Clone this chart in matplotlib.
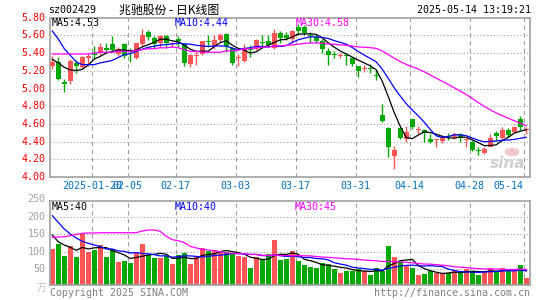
import matplotlib
matplotlib.use('Agg')
import matplotlib.pyplot as plt
import numpy as np

# trading days shown (2025)
dates = ['01-09', '01-10', '01-13', '01-14', '01-15', '01-16', '01-17', '01-20', '01-21', '01-22',
         '01-23', '01-24', '01-27', '02-05', '02-06', '02-07', '02-10', '02-11', '02-12', '02-13',
         '02-14', '02-17', '02-18', '02-19', '02-20', '02-21', '02-24', '02-25', '02-26', '02-27',
         '02-28', '03-03', '03-04', '03-05', '03-06', '03-07', '03-10', '03-11', '03-12', '03-13',
         '03-14', '03-17', '03-18', '03-19', '03-20', '03-21', '03-24', '03-25', '03-26', '03-27',
         '03-28', '03-31', '04-01', '04-02', '04-03', '04-07', '04-08', '04-09', '04-10', '04-11',
         '04-14', '04-15', '04-16', '04-17', '04-18', '04-21', '04-22', '04-23', '04-24', '04-25',
         '04-28', '04-29', '04-30', '05-06', '05-07', '05-08', '05-09', '05-12', '05-13', '05-14']

opens = [5.25, 5.30, 5.07, 5.09, 5.29, 5.24, 5.35, 5.40, 5.41, 5.46,
         5.50, 5.39, 5.50, 5.43, 5.35, 5.50, 5.64, 5.575, 5.51, 5.59,
         5.50, 5.56, 5.50, 5.28, 5.37, 5.385, 5.54, 5.48, 5.55, 5.62,
         5.46, 5.345, 5.31, 5.445, 5.45, 5.52, 5.535, 5.46, 5.625, 5.61,
         5.56, 5.70, 5.69, 5.61, 5.58, 5.535, 5.42, 5.39, 5.37, 5.38,
         5.35, 5.25, 5.215, 5.225, 5.155, 4.70, 4.55, 4.24, 4.55, 4.425,
         4.65, 4.535, 4.53, 4.425, 4.415, 4.41, 4.46, 4.455, 4.485, 4.415,
         4.40, 4.30, 4.275, 4.34, 4.50, 4.445, 4.535, 4.51, 4.66, 4.53]
highs = [5.37, 5.36, 5.11, 5.33, 5.32, 5.37, 5.40, 5.48, 5.51, 5.52,
         5.59, 5.47, 5.52, 5.46, 5.52, 5.67, 5.66, 5.59, 5.61, 5.60,
         5.53, 5.59, 5.51, 5.39, 5.43, 5.54, 5.61, 5.61, 5.63, 5.63,
         5.47, 5.39, 5.50, 5.49, 5.56, 5.60, 5.60, 5.675, 5.65, 5.64,
         5.66, 5.73, 5.72, 5.64, 5.62, 5.56, 5.46, 5.42, 5.40, 5.39,
         5.36, 5.26, 5.27, 5.28, 5.21, 4.82, 4.56, 4.35, 4.56, 4.575,
         4.66, 4.575, 4.54, 4.485, 4.425, 4.47, 4.50, 4.51, 4.50, 4.44,
         4.42, 4.335, 4.34, 4.485, 4.52, 4.56, 4.55, 4.567, 4.69, 4.567]
lows = [5.22, 5.10, 4.96, 5.05, 5.18, 5.22, 5.26, 5.35, 5.38, 5.40,
        5.41, 5.37, 5.34, 5.30, 5.33, 5.48, 5.55, 5.46, 5.47, 5.46,
        5.47, 5.47, 5.26, 5.24, 5.27, 5.375, 5.47, 5.45, 5.53, 5.41,
        5.27, 5.25, 5.30, 5.36, 5.44, 5.47, 5.47, 5.45, 5.52, 5.55,
        5.52, 5.61, 5.61, 5.52, 5.51, 5.40, 5.27, 5.35, 5.34, 5.27,
        5.26, 5.13, 5.19, 5.175, 5.10, 4.62, 4.23, 4.09, 4.43, 4.39,
        4.54, 4.49, 4.40, 4.38, 4.34, 4.38, 4.42, 4.435, 4.40, 4.34,
        4.29, 4.25, 4.265, 4.335, 4.41, 4.435, 4.455, 4.50, 4.53, 4.49]
closes = [5.30, 5.11, 5.05, 5.31, 5.25, 5.36, 5.36, 5.38, 5.47, 5.44,
          5.44, 5.45, 5.37, 5.41, 5.51, 5.61, 5.58, 5.50, 5.59, 5.51,
          5.51, 5.54, 5.29, 5.375, 5.38, 5.535, 5.53, 5.55, 5.60, 5.48,
          5.29, 5.35, 5.45, 5.435, 5.55, 5.51, 5.49, 5.625, 5.575, 5.575,
          5.65, 5.65, 5.63, 5.59, 5.54, 5.45, 5.375, 5.38, 5.375, 5.37,
          5.28, 5.20, 5.22, 5.215, 5.145, 4.635, 4.335, 4.31, 4.44, 4.51,
          4.57, 4.54, 4.50, 4.39, 4.42, 4.45, 4.45, 4.49, 4.44, 4.42,
          4.30, 4.295, 4.32, 4.445, 4.46, 4.535, 4.475, 4.56, 4.56, 4.54]

# volume, 万手
volumes = [107.5, 122.8, 87.4, 116.1, 84.5, 149.6, 99.8, 104.6, 119.0, 84.5,
           106.5, 70.1, 73.0, 67.2, 99.8, 122.8, 89.3, 81.6, 82.6, 86.4,
           64.4, 89.3, 96.0, 64.4, 85.4, 110.4, 102.7, 104.6, 97.9, 99.8,
           95.0, 87.4, 84.5, 52.9, 83.5, 78.7, 92.2, 133.3, 75.9, 77.8,
           101.7, 73.0, 61.5, 55.7, 52.9, 68.2, 64.4, 50.0, 38.5, 44.2,
           44.2, 50.0, 44.2, 32.7, 52.9, 44.2, 116.1, 84.5, 73.0, 61.5,
           52.9, 32.7, 35.6, 44.2, 38.5, 35.6, 38.5, 47.1, 38.5, 50.0,
           44.2, 32.7, 44.2, 52.9, 44.2, 52.9, 44.2, 44.2, 61.5, 24.1]

# moving-average values at the left edge (they depend on days before the window)
ma5_head = [5.33, 5.29, 5.24, 5.21]
ma10_head = [5.65, 5.56, 5.45, 5.375, 5.30, 5.27, 5.27, 5.27, 5.29]
ma30_head = [5.39, 5.39, 5.39, 5.39, 5.39, 5.39, 5.39, 5.40, 5.41, 5.41,
             5.41, 5.42, 5.42, 5.42, 5.43, 5.44, 5.45, 5.45, 5.46, 5.46,
             5.47, 5.46, 5.44, 5.42, 5.42, 5.41, 5.41, 5.41, 5.41]
vma5_head = [147.7, 128.5, 119.0, 112.3]
vma10_head = [203.3, 184.1, 165.0, 150.6, 139.1, 129.5, 123.8, 119.0, 114.2]
vma30_head = [141.0, 142.0, 142.9, 145.8, 149.6, 152.5, 153.5, 153.5, 154.4, 154.4,
              154.4, 154.4, 154.4, 154.4, 154.4, 159.2, 162.1, 162.1, 158.2, 143.9,
              134.3, 131.4, 125.7, 115.1, 110.4, 106.5, 104.6, 102.7, 99.8]

tick_dates = ['01-20', '02-05', '02-17', '03-03', '03-17', '03-31', '04-14', '04-28', '05-14']
tick_labels = ['2025-01-20', '02-05', '02-17', '03-03', '03-17', '03-31', '04-14', '04-28', '05-14']
price_ticks = [4.00, 4.20, 4.40, 4.60, 4.80, 5.00, 5.20, 5.40, 5.60, 5.80]
vol_ticks = [50, 100, 150, 200, 250]

RED = '#ff5555'
GREEN = '#00a800'
GRID = '#a0a0a0'
MONO = 'DejaVu Sans Mono'
FS = 7.2
W, H = 545, 300


def moving_avg(values, n, head):
    out = list(head)
    for i in range(len(head), len(values)):
        out.append(np.mean(values[i - n + 1:i + 1]))
    return out


def px(x, y):
    return x / W, 1 - y / H


x = np.arange(len(dates))
o = np.array(opens)
c = np.array(closes)
up = c >= o
colors = [RED if u else GREEN for u in up]

fig = plt.figure(figsize=(W / 100, H / 100), dpi=100)
ax = fig.add_axes([50 / W, 1 - 177 / H, 479.5 / W, 159 / H])
axv = fig.add_axes([50 / W, 1 - 285.3 / H, 479.5 / W, 84 / H])

for a in (ax, axv):
    a.set_xlim(-0.38, 79.55)
    for s in a.spines.values():
        s.set_color('#a0a0a0')
        s.set_linewidth(1.2)
    a.set_xticks([])
    a.set_yticks([])
    for d in tick_dates:
        a.axvline(dates.index(d) - 0.4, color=GRID, lw=0.8, ls=(0, (4, 3)), zorder=0)

# price panel
ax.set_ylim(4.0, 5.797)
for p in price_ticks[1:-1]:
    ax.axhline(p, color=GRID, lw=0.8, ls=(0, (1, 2)), zorder=0)
ax.vlines(x, lows, highs, colors=colors, lw=1.0, zorder=2)
body = np.maximum(np.abs(c - o), 0.012)
ax.bar(x, body, bottom=np.minimum(o, c), width=0.78, color=colors, lw=0, zorder=3)

ax.plot(x, moving_avg(closes, 5, ma5_head), color='black', lw=0.9, zorder=4)
ax.plot(x, moving_avg(closes, 10, ma10_head), color='#0000ff', lw=0.9, zorder=4)
ax.plot(x, moving_avg(closes, 30, ma30_head), color='#ff00ff', lw=0.9, zorder=4)

# volume panel
axv.set_ylim(3.2, 244.6)
for v in vol_ticks[:-1]:
    axv.axhline(v, color=GRID, lw=0.8, ls=(0, (1, 2)), zorder=0)
axv.bar(x, volumes, width=0.78, color=colors, lw=0, zorder=2)
axv.plot(x, moving_avg(volumes, 5, vma5_head), color='black', lw=0.9, zorder=4)
axv.plot(x, moving_avg(volumes, 10, vma10_head), color='#0000ff', lw=0.9, zorder=4)
axv.plot(x, moving_avg(volumes, 30, vma30_head), color='#ff00ff', lw=0.9, zorder=4)

# axis labels
for p in price_ticks:
    ax.text(-1.1, p, '%.2f' % p, color='red', fontsize=FS, family=MONO,
            ha='right', va='center', clip_on=False)
for v in vol_ticks:
    axv.text(-1.1, v, str(v), color='#a0a0a0', fontsize=FS, family=MONO,
             ha='right', va='center', clip_on=False)
fig.text(*px(46, 288), '万', color='#c0c0c0', fontsize=7,
         family=['Noto Sans CJK SC', 'DejaVu Sans'], ha='right', va='center')

for d, lab in zip(tick_dates, tick_labels):
    xi = dates.index(d) - 0.4
    if d == dates[-1]:
        ax.text(xi, 3.895, lab, color='#0070c0', fontsize=FS, family=MONO,
                ha='right', va='center', clip_on=False)
    else:
        ax.text(xi, 3.895, lab, color='#0070c0', fontsize=FS, family=MONO,
                ha='center', va='center', clip_on=False)

# header
fig.text(*px(48, 10), 'sz002429', fontsize=FS, family=MONO, va='center')
fig.text(*px(119, 10), '兆驰股份 - 日K线图', fontsize=8.6,
         family=['Noto Sans CJK SC', 'DejaVu Sans'], va='center')
fig.text(*px(531, 10), '2025-05-14 13:19:21', fontsize=FS, family=MONO, ha='right', va='center')

# legends
fig.text(*px(52, 23), 'MA5:4.53', fontsize=FS, family=MONO, va='center', color='black')
fig.text(*px(175, 23), 'MA10:4.44', fontsize=FS, family=MONO, va='center', color='#0000ff')
fig.text(*px(296, 23), 'MA30:4.58', fontsize=FS, family=MONO, va='center', color='#ff00ff')
fig.text(*px(52, 207), 'MA5:40', fontsize=FS, family=MONO, va='center', color='black')
fig.text(*px(175, 207), 'MA10:40', fontsize=FS, family=MONO, va='center', color='#0000ff')
fig.text(*px(295, 207), 'MA30:45', fontsize=FS, family=MONO, va='center', color='#ff00ff')

# watermark
fig.text(*px(508, 164), 'sina', fontsize=11, fontweight='bold', style='italic',
         color='#d0d0d0', ha='center', va='center')
fig.patches.append(plt.Circle(px(512, 152), 0.012, transform=fig.transFigure,
                              color='#f4c8c8', zorder=0))

# footer
fig.text(*px(50, 293), 'Copyright 2025 SINA.COM', fontsize=FS, family=MONO,
         color='#808080', va='center')
fig.text(*px(530, 293), 'http://finance.sina.com.cn', fontsize=FS, family=MONO,
         color='#808080', ha='right', va='center')

fig.savefig('out.png', dpi=100, facecolor='white')
